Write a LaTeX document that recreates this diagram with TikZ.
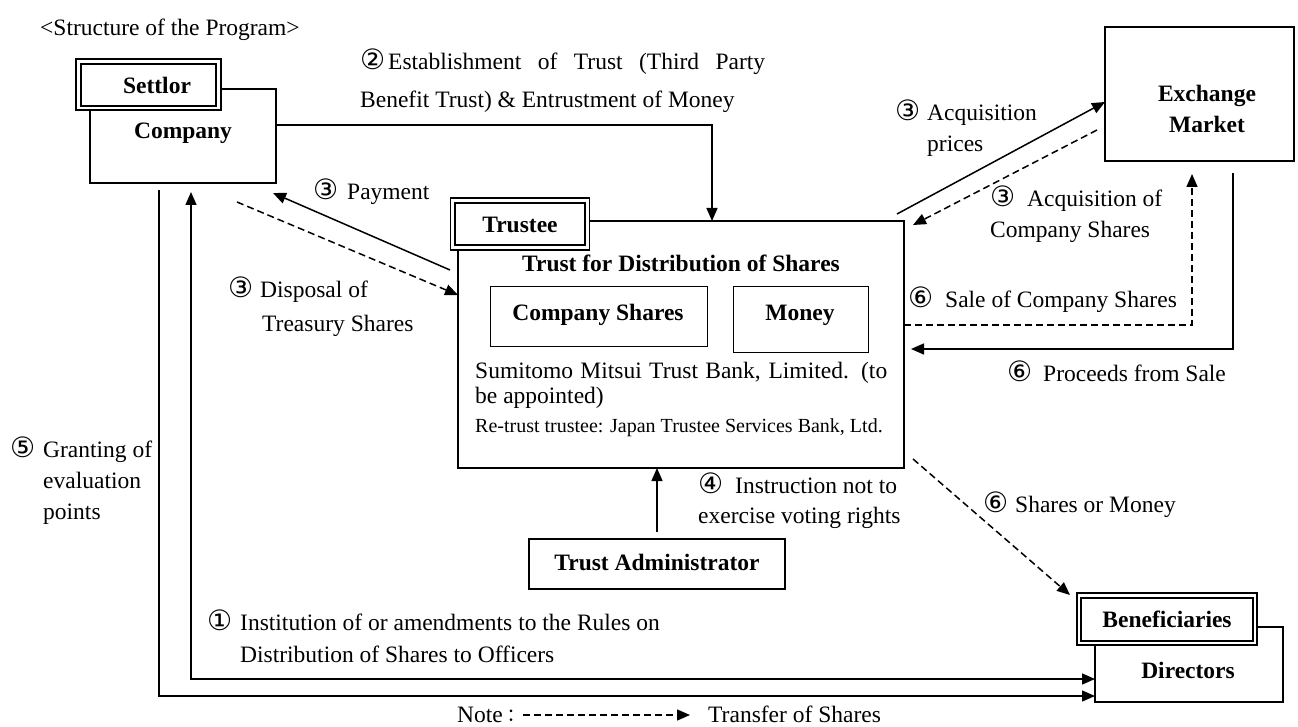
\documentclass[tikz,border=0pt]{standalone}
\usepackage{fontspec}
\setmainfont{Liberation Serif}
\newfontfamily\cfont{DejaVu Sans}
\newfontfamily\jfont{Noto Sans CJK JP}
\usetikzlibrary{arrows.meta}
\newcommand{\cnum}[2]{\makebox[#2pt][l]{\cfont\fontsize{28}{28}\selectfont #1}}
\begin{document}
\begin{tikzpicture}[x=1pt,y=-1pt,
  txt/.style={font=\fontsize{23.5}{28}\selectfont, inner sep=0pt, anchor=base west},
  stxt/.style={font=\fontsize{20}{24}\selectfont, inner sep=0pt, anchor=base west},
  btxt/.style={font=\fontsize{23.5}{28}\selectfont\bfseries, inner sep=0pt, anchor=base},
  box/.style={draw, line width=1.7pt, fill=white, inner sep=0pt, outer sep=0pt},
  thinbox/.style={draw, line width=1pt, fill=white, inner sep=0pt, outer sep=0pt},
  dblbox/.style={draw, line width=1.7pt, double, double distance=2.8pt, fill=white, inner sep=0pt, outer sep=0pt},
  arr/.style={line width=1.5pt, -{Triangle[length=13pt,width=11pt]}},
  arrtwo/.style={line width=1.5pt, {Triangle[length=13pt,width=11pt]}-{Triangle[length=13pt,width=11pt]}},
  dsh/.style={dash pattern=on 7pt off 4pt}
]
\useasboundingbox (0,0) rectangle (1298,727);

% title
\node[txt] (title) at (40,36) {\textless Structure of the Program\textgreater};

% boxes
\node[box, minimum width=186pt, minimum height=94pt] (company) at (183,136) {};
\node[dblbox, minimum width=140pt, minimum height=46.5pt] (settlor) at (148.5,84.75) {};
\node[btxt] (settlorT) at (157,94) {Settlor};
\node[btxt] (companyT) at (183,139) {Company};

\node[box, minimum width=446pt, minimum height=247pt] (trust) at (681,344.5) {};
\node[dblbox, minimum width=134.5pt, minimum height=47pt] (trustee) at (520,224) {};
\node[btxt] (trusteeT) at (520,233) {Trustee};
\node[btxt] (trustT) at (681,272) {Trust for Distribution of Shares};
\node[thinbox, minimum width=217pt, minimum height=59pt] (cshares) at (598.5,316.5) {};
\node[btxt] (csharesT) at (598,320) {Company Shares};
\node[thinbox, minimum width=135pt, minimum height=65pt] (money) at (800.5,319.5) {};
\node[btxt] (moneyT) at (800,320) {Money};
\node[txt] (sumi1) at (475,378) {\makebox[412pt][s]{Sumitomo Mitsui Trust Bank, Limited. (to}};
\node[txt] (sumi2) at (475,403) {be appointed)};
\node[stxt] (retrust) at (475,432) {Re-trust trustee: Japan Trustee Services Bank, Ltd.};

\node[box, minimum width=189pt, minimum height=134pt] (exch) at (1199.5,94) {};
\node[btxt] (exchT1) at (1207,102) {Exchange};
\node[btxt] (exchT2) at (1207,133) {Market};

\node[box, minimum width=256pt, minimum height=50pt] (admin) at (657,564) {};
\node[btxt] (adminT) at (657,570) {Trust Administrator};

\node[box, minimum width=188pt, minimum height=75pt] (dir) at (1189,664.5) {};
\node[dblbox, minimum width=176pt, minimum height=47.5pt] (benef) at (1167,619.25) {};
\node[btxt] (benefT) at (1167,627) {Beneficiaries};
\node[btxt] (dirT) at (1188,678) {Directors};

% coordinates for free ends
\coordinate (payS) at (450,270);
\coordinate (payE) at (273,193);
\coordinate (dispS) at (237,202);
\coordinate (acqS) at (897,214);
\coordinate (acqtS) at (1097,130);
\coordinate (acqtE) at (913,225);
\coordinate (saleE) at (1192,174);
\coordinate (procS) at (1233,173);
\coordinate (smS) at (913,459);
\coordinate (smE) at (1070,595);
\coordinate (fiveS) at (159,190);
\coordinate (oneS) at (191,192);
\coordinate (lgS) at (523,715);
\coordinate (lgE) at (690,715);

% connectors
\draw[arr] ([yshift=11pt]company.east) -| ([xshift=31pt]trust.north);
\draw[arr] (payS) -- (payE);
\draw[arr, dsh] (dispS) -- ([yshift=49.5pt]trust.west);
\draw[arr] (acqS) -- ([yshift=-8pt]exch.west);
\draw[arr, dsh] (acqtS) -- (acqtE);
\draw[arr, dsh] ([yshift=19.5pt]trust.east) -| (saleE);
\draw[arr, shorten >=7pt] (procS) |- ([yshift=-4.5pt]trust.east);
\draw[arr, shorten <=7pt] (admin.north) -- (admin.north |- trust.south);
\draw[arr, dsh] (smS) -- (smE);
\draw[arr] (fiveS) |- ([yshift=-31.5pt]dir.west);
\draw[arrtwo] (oneS) |- ([yshift=-14.5pt]dir.west);

% labels
\node[txt] (l2a) at (360,70) {\makebox[405pt][s]{\cnum{②}{28}Establishment of Trust (Third Party}};
\node[txt] (l2b) at (360,108) {Benefit Trust) \& Entrustment of Money};
\node[txt] (lpay) at (313,200) {\cnum{③}{34}Payment};
\node[txt] (ldisp1) at (228,298) {\cnum{③}{32}Disposal of};
\node[txt] (ldisp2) at (262,331) {Treasury Shares};
\node[txt] (lacq1) at (895,121) {\cnum{③}{32}Acquisition};
\node[txt] (lacq2) at (927,152) {prices};
\node[txt] (lacqt1) at (990,207) {\cnum{③}{37}Acquisition of};
\node[txt] (lacqt2) at (990,238) {Company Shares};
\node[txt] (lsale) at (908,308) {\cnum{⑥}{37}Sale of Company Shares};
\node[txt] (lproc) at (1007,381) {\cnum{⑥}{36}Proceeds from Sale};
\node[txt] (lfive1) at (10,457) {\cnum{⑤}{33}Granting of};
\node[txt] (lfive2) at (43,488) {evaluation};
\node[txt] (lfive3) at (43,519) {points};
\node[txt] (lone1) at (207,630) {\cnum{①}{33}Institution of or amendments to the Rules on};
\node[txt] (lone2) at (240,662) {Distribution of Shares to Officers};
\node[txt] (lfour1) at (698,493) {\cnum{④}{37}Instruction not to};
\node[txt] (lfour2) at (698,523) {exercise voting rights};
\node[txt] (lsm) at (983,512) {\cnum{⑥}{32}Shares or Money};

% legend
\node[txt] (note) at (457,722) {Note{\jfont\fontsize{18}{20}\selectfont ：}};
\draw[arr, dsh] (lgS) -- (lgE);
\node[txt] (lgT) at (708,722) {Transfer of Shares};
\end{tikzpicture}
\end{document}
